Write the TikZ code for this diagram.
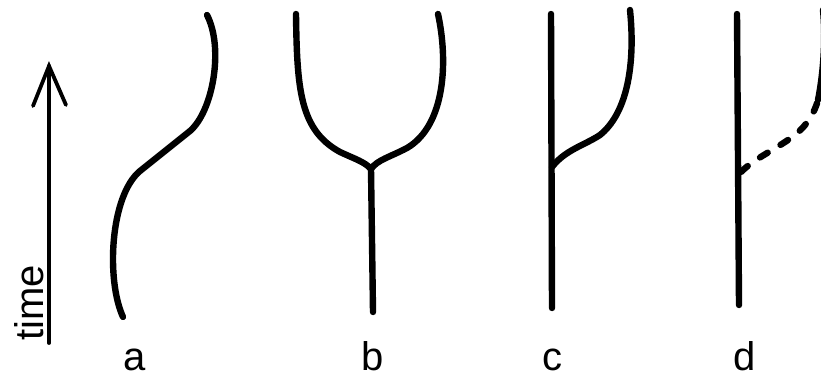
\documentclass[tikz,border=0pt]{standalone}
\usepackage{fontspec}
\setmainfont{Liberation Sans}
\begin{document}
\begin{tikzpicture}[x=1pt,y=-1pt,
  lineage/.style={line width=6.4pt,line cap=round,line join=round},
  timeaxis/.style={line width=3.8pt,line cap=round,line join=miter},
  lbl/.style={font=\fontsize{40}{44}\selectfont,inner sep=0pt}]
\useasboundingbox (0,0) rectangle (821,379);
% time axis
\coordinate (t0) at (49,343);
\coordinate (t1) at (49,66);
\draw[timeaxis] (t0) -- (t1);
\draw[timeaxis] (33,106) -- (t1) -- (66,105);
\node[lbl,rotate=90,anchor=base west] (tlab) at (43,341) {time};
% a
\draw[lineage] (123,317) .. controls (106,280) and (110,196) .. (140,171)
  -- (190,131) .. controls (213,111) and (224,48) .. (207,15);
% b
\coordinate (bj) at (371,169);
\draw[lineage] (373,312) -- (bj);
\draw[lineage] (296,14) .. controls (297,90) and (300,130) .. (340,152)
  .. controls (355,159) and (365,162) .. (bj);
\draw[lineage] (438,14) .. controls (448,60) and (446,125) .. (407,148)
  .. controls (390,157) and (377,160) .. (bj);
% c
\coordinate (cj) at (552,167);
\draw[lineage] (551,14) -- (552,308);
\draw[lineage] (cj) .. controls (565,150) and (585,145) .. (600,135)
  .. controls (625,115) and (636,70) .. (630,10);
% d
\coordinate (dj) at (741,172);
\draw[lineage] (737,14) -- (739,305);
\begin{scope}
\clip (0,0) rectangle (821,379);
\draw[lineage,dash pattern=on 9pt off 15pt] (dj) .. controls (755,158) and (775,150) .. (795,135)
  .. controls (807,125) and (814,114) .. (818,100);
\draw[lineage] (818,100) .. controls (823,75) and (826,40) .. (823,10);
\end{scope}
% labels
\node[lbl,anchor=base] (la) at (135,370) {a};
\node[lbl,anchor=base] (lb) at (373,370) {b};
\node[lbl,anchor=base] (lc) at (552,370) {c};
\node[lbl,anchor=base] (ld) at (745,370) {d};
\end{tikzpicture}
\end{document}
